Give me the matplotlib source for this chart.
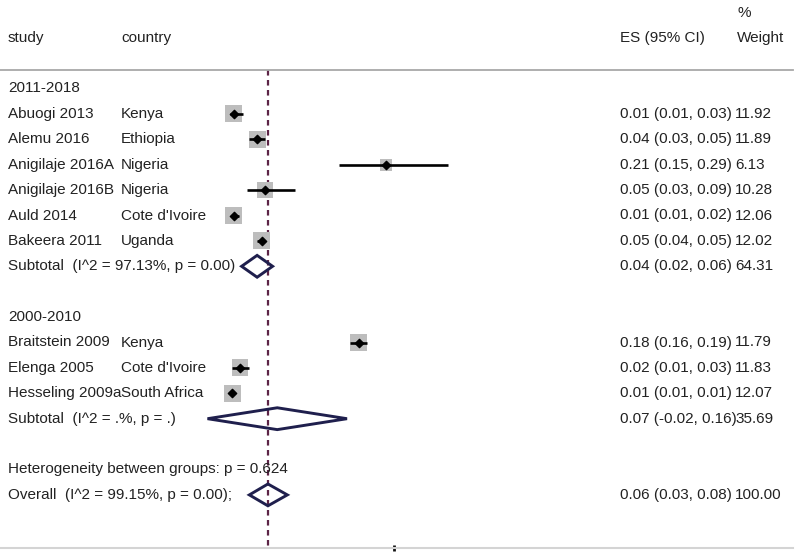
import matplotlib
matplotlib.use("Agg")
import matplotlib.pyplot as plt
import matplotlib.transforms as mtransforms
from matplotlib.patches import Polygon

plt.rcParams['font.family'] = ['Liberation Sans', 'DejaVu Sans']

# ---------------- data ----------------
studies = ["Abuogi 2013", "Alemu 2016", "Anigilaje 2016A", "Anigilaje 2016B",
           "Auld 2014", "Bakeera 2011", "Braitstein 2009", "Elenga 2005",
           "Hesseling 2009a"]
countries = ["Kenya", "Ethiopia", "Nigeria", "Nigeria", "Cote d'Ivoire",
             "Uganda", "Kenya", "Cote d'Ivoire", "South Africa"]
es = [0.014, 0.044, 0.210, 0.054, 0.014, 0.050, 0.175, 0.022, 0.012]
lo = [0.009, 0.034, 0.150, 0.031, 0.010, 0.044, 0.164, 0.012, 0.008]
hi = [0.026, 0.054, 0.290, 0.093, 0.020, 0.054, 0.186, 0.034, 0.014]
weights = [11.92, 11.89, 6.13, 10.28, 12.06, 12.02, 11.79, 11.83, 12.07]
es_text = ["0.01 (0.01, 0.03)", "0.04 (0.03, 0.05)", "0.21 (0.15, 0.29)",
           "0.05 (0.03, 0.09)", "0.01 (0.01, 0.02)", "0.05 (0.04, 0.05)",
           "0.18 (0.16, 0.19)", "0.02 (0.01, 0.03)", "0.01 (0.01, 0.01)"]
weight_text = ["11.92", "11.89", "6.13", "10.28", "12.06", "12.02",
               "11.79", "11.83", "12.07"]
study_rows = [1, 2, 3, 4, 5, 6, 10, 11, 12]

groups = ["2011-2018", "2000-2010"]
group_rows = [0, 9]

pooled_labels = ["Subtotal  (I^2 = 97.13%, p = 0.00)",
                 "Subtotal  (I^2 = .%, p = .)",
                 "Overall  (I^2 = 99.15%, p = 0.00);"]
pooled_es = [0.044, 0.070, 0.058]
pooled_lo = [0.024, -0.020, 0.034]
pooled_hi = [0.064, 0.160, 0.083]
pooled_es_text = ["0.04 (0.02, 0.06)", "0.07 (-0.02, 0.16)", "0.06 (0.03, 0.08)"]
pooled_weight_text = ["64.31", "35.69", "100.00"]
pooled_rows = [7, 13, 16]

het_text = "Heterogeneity between groups: p = 0.624"
het_row = 15

headers = ["study", "country", "ES (95% CI)", "Weight"]
axis_ticks = [0.22]

# ---------------- figure ----------------
W, H = 800, 552
fig = plt.figure(figsize=(W / 100, H / 100), dpi=100)
ax = fig.add_axes([0, 4 / H, 793 / W, 548 / H])

x0_px, scale = 223.0, 775.0
row0_px, row_h = 88.5, 25.4
ax.set_xlim((0 - x0_px) / scale, (793 - x0_px) / scale)
ax.set_ylim((548 - row0_px) / row_h, (0 - row0_px) / row_h)

for s in ["top", "left", "right"]:
    ax.spines[s].set_visible(False)
ax.spines["bottom"].set_color("#d4d4d4")
ax.spines["bottom"].set_linewidth(1.5)
ax.set_yticks([])
ax.set_xticks(axis_ticks)
ax.set_xticklabels([])
ax.tick_params(axis="x", direction="inout", length=4, width=2, color="#111111")

trans = mtransforms.blended_transform_factory(ax.transAxes, ax.transData)
fx = lambda px: px / 793.0

txt_color = "#222222"
fs = 11

# header
hdr_row = (38 - row0_px) / row_h
pct_row = (13 - row0_px) / row_h
for lab, px in zip(headers, [8, 121, 620, 737]):
    ax.text(fx(px), hdr_row, lab, transform=trans, fontsize=fs, color=txt_color,
            va="center", ha="left")
ax.text(fx(737), pct_row, "%", transform=trans, fontsize=fs, color=txt_color,
        va="center", ha="left")

# separator line
sep_row = (70 - row0_px) / row_h
ax.plot([0, 1], [sep_row, sep_row], transform=trans, color="#a8a8a8", lw=1.3,
        clip_on=False)

# overall dashed line
ax.plot([pooled_es[2], pooled_es[2]], [sep_row, ax.get_ylim()[0]],
        color="#5c2446", lw=1.6, ls=(0, (2.5, 2.0)), zorder=1)

# group labels
for g, r in zip(groups, group_rows):
    ax.text(fx(8), r, g, transform=trans, fontsize=fs, color=txt_color, va="center")

# studies
for i, r in enumerate(study_rows):
    ax.text(fx(8), r, studies[i], transform=trans, fontsize=fs, color=txt_color,
            va="center", zorder=5)
    ax.text(fx(121), r, countries[i], transform=trans, fontsize=fs,
            color=txt_color, va="center", zorder=5)
    ax.text(fx(620), r, es_text[i], transform=trans, fontsize=fs,
            color=txt_color, va="center")
    ax.text(fx(735), r, weight_text[i], transform=trans, fontsize=fs,
            color=txt_color, va="center")

ax.scatter(es, study_rows, s=[12.5 * w for w in weights], marker="s",
           color="#bdbdbd", edgecolors="none", zorder=2)
ax.hlines(study_rows, lo, hi, color="black", lw=1.9, zorder=3)
ax.scatter(es, study_rows, s=18, marker="D", color="black", zorder=4)

# pooled diamonds
hh = 0.43
for i, r in enumerate(pooled_rows):
    poly = Polygon([[pooled_lo[i], r], [pooled_es[i], r - hh],
                    [pooled_hi[i], r], [pooled_es[i], r + hh]],
                   closed=True, fill=False, edgecolor="#1f1f4d", lw=2.1,
                   joinstyle="miter", zorder=4)
    ax.add_patch(poly)
    ax.text(fx(8), r, pooled_labels[i], transform=trans, fontsize=fs,
            color=txt_color, va="center", zorder=5)
    ax.text(fx(620), r, pooled_es_text[i], transform=trans, fontsize=fs,
            color=txt_color, va="center")
    ax.text(fx(735), r, pooled_weight_text[i], transform=trans, fontsize=fs,
            color=txt_color, va="center")

ax.text(fx(8), het_row, het_text, transform=trans, fontsize=fs,
        color=txt_color, va="center", zorder=5)

fig.savefig("out.png", dpi=100)
